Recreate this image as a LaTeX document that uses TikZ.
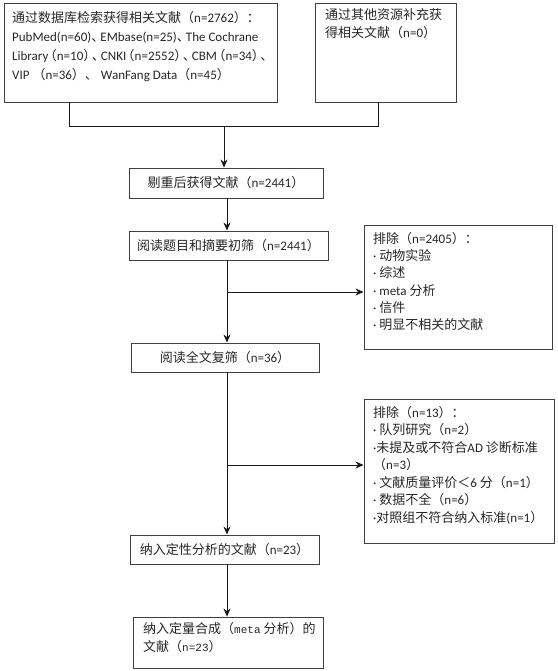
\documentclass[tikz,border=0pt]{standalone}
\usepackage{fontspec}
\setmainfont{Carlito}
\newfontfamily\cjk{Noto Sans CJK SC}
\newfontfamily\monofam{Liberation Mono}
\usetikzlibrary{arrows.meta}
\newcommand{\zh}[1]{{\cjk #1}}
\newcommand{\clp}{\kern-0.35em{\cjk （}}
\newcommand{\crp}{{\cjk ）}\kern-0.35em}
\newcommand{\cdun}{{\cjk 、}\kern-0.3em}
\begin{document}
\begin{tikzpicture}[x=1pt,y=-1pt,
  box/.style={draw=black!75, line width=0.9pt, inner sep=0pt, rectangle},
  txt/.style={inner sep=0pt, align=left, anchor=north west, font=\fontsize{13}{19}\selectfont, text=black!85},
  ctxt/.style={inner sep=0pt, font=\fontsize{13}{19}\selectfont, text=black!85},
  conn/.style={draw=black!90, line width=0.9pt},
  arr/.style={conn, -{Stealth[length=8pt,width=7pt,inset=2.5pt]}}]
\useasboundingbox (0,0) rectangle (557,671);
% boxes
\node[box, minimum width=273pt, minimum height=99pt] (b1) at (140.5,52.5) {};
\node[box, minimum width=141pt, minimum height=99pt] (b2) at (385.5,52.5) {};
\node[box, minimum width=194pt, minimum height=30pt] (b3) at (226,183) {};
\node[box, minimum width=199pt, minimum height=29pt] (b4) at (228.5,245.5) {};
\node[box, minimum width=188pt, minimum height=124pt] (e1) at (458,287) {};
\node[box, minimum width=188pt, minimum height=29pt] (b5) at (225,357.5) {};
\node[box, minimum width=190pt, minimum height=144pt] (e2) at (459,471) {};
\node[box, minimum width=189pt, minimum height=29pt] (b6) at (224.5,549.5) {};
\node[box, minimum width=190pt, minimum height=51pt] (b7) at (228,642.5) {};
% texts
\node[txt] (t1) at (12,11) {\zh{通过数据库检索获得相关文献（}n=2762\zh{）：}\\
PubMed(n=60)\cdun EMbase(n=25)\cdun The Cochrane\\
Library\clp n=10\crp\cdun CNKI\clp n=2552\crp\cdun CBM\clp n=34\crp\cdun\\
VIP \zh{（}n=36\zh{）、} WanFang Data\zh{（}n=45\zh{）}};
\node[txt, font=\fontsize{13}{18}\selectfont] (t2) at (325,8) {\zh{通过其他资源补充获}\\\zh{得相关文献（}n=0\zh{）}};
\node[ctxt] (t3) at (b3.center) {\zh{剔重后获得文献（}n=2441\zh{）}};
\node[ctxt] (t4) at (b4.center) {\zh{阅读题目和摘要初筛（}n=2441\zh{）}};
\node[txt, font=\fontsize{13}{17.3}\selectfont] (t5) at (373,232) {\zh{排除（}n=2405\zh{）：}\\
· \zh{动物实验}\\
· \zh{综述}\\
· meta \zh{分析}\\
· \zh{信件}\\
· \zh{明显不相关的文献}};
\node[ctxt] (t6) at (b5.center) {\zh{阅读全文复筛（}n=36\zh{）}};
\node[txt, font=\fontsize{13}{17.5}\selectfont] (t7) at (373,406) {\zh{排除（}n=13\zh{）：}\\
· \zh{队列研究（}n=2\zh{）}\\
·\zh{未提及或不符合}AD \zh{诊断标准}\\
\zh{（}n=3\zh{）}\\
· \zh{文献质量评价＜}6 \zh{分（}n=1\zh{）}\\
· \zh{数据不全（}n=6\zh{）}\\
·\zh{对照组不符合纳入标准}(n=1\zh{）}};
\node[ctxt] (t8) at (b6.center) {\zh{纳入定性分析的文献（}n=23\zh{）}};
\node[txt, font=\fontsize{13}{18}\selectfont] (t9) at (143,622) {\zh{纳入定量合成（}{\monofam\fontsize{11}{18}\selectfont meta} \zh{分析）的}\\
\zh{文献（}{\monofam\fontsize{11}{18}\selectfont n=23}\zh{）}};
% connectors
\coordinate (jl) at (69,126);
\coordinate (jr) at (378,126);
\coordinate (jc) at (224,126);
\coordinate (tr) at (227,0);
\coordinate (k1) at (227,292);
\coordinate (k2) at (227,465);
\draw[conn] (b1.south -| jl) -- (jl) -- (jr) -- (b2.south -| jr);
\draw[arr] (jc) -- (b3.north -| jc);
\draw[arr] (b3.south -| tr) -- (b4.north -| tr);
\draw[arr] (b4.south -| tr) -- (b5.north -| tr);
\draw[arr] (k1) -- (e1.west |- k1);
\draw[arr] (b5.south -| tr) -- (b6.north -| tr);
\draw[arr] (k2) -- (e2.west |- k2);
\draw[arr] (b6.south -| tr) -- (b7.north -| tr);
\end{tikzpicture}
\end{document}
